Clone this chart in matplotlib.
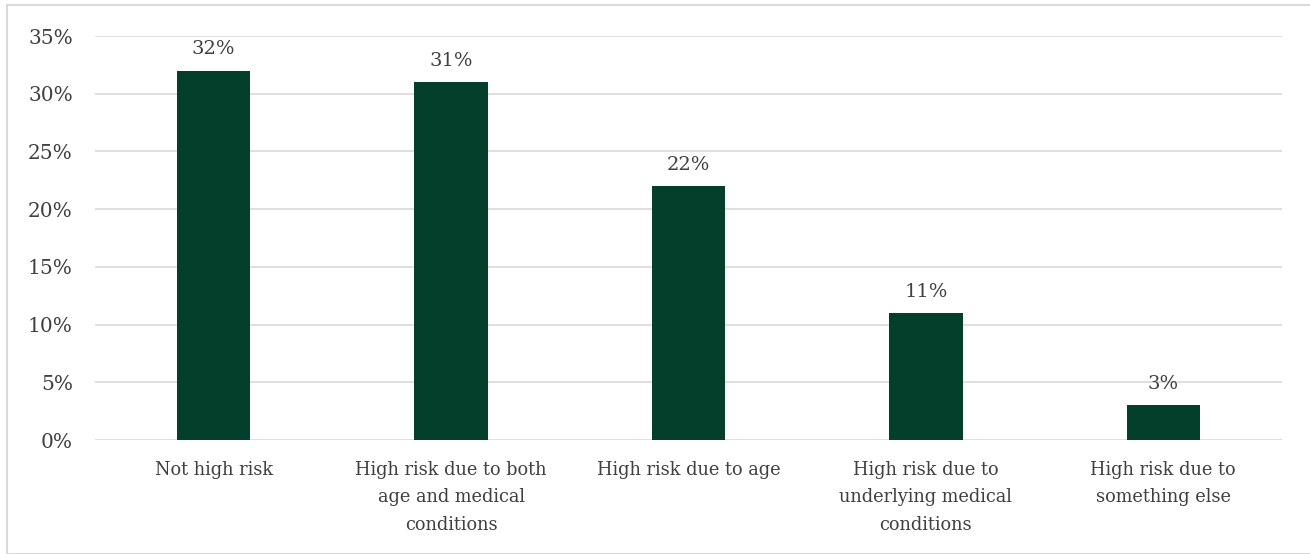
import matplotlib
matplotlib.use("Agg")
import matplotlib.pyplot as plt
from matplotlib.patches import Rectangle
from matplotlib.ticker import FuncFormatter, MultipleLocator

categories = ["Not high risk", "High risk due to both\nage and medical\nconditions",
              "High risk due to age", "High risk due to\nunderlying medical\nconditions",
              "High risk due to\nsomething else"]
values = [32, 31, 22, 11, 3]
labels = ["32%", "31%", "22%", "11%", "3%"]

bar_color = "#033F2A"
text_color = "#404040"
grid_color = "#D9D9D9"

plt.rcParams['font.family'] = ['DejaVu Serif']

fig = plt.figure(figsize=(13.10, 5.54), dpi=100)
fig.patches.append(Rectangle((7/1310, 0), 1.0, 1 - 5/554, transform=fig.transFigure,
                             fill=False, edgecolor=grid_color, linewidth=1.5))
ax = fig.add_axes([95/1310, 1 - 440/554, (1282 - 95)/1310, (440 - 36)/554])

x = range(len(categories))
bars = ax.bar(x, values, width=0.31, color=bar_color, zorder=3)
for xi, v, lab in zip(x, values, labels):
    ax.annotate(lab, (xi, v), xytext=(0, 9), textcoords="offset points",
                ha="center", va="bottom", fontsize=14, color=text_color)

ax.set_xlim(-0.5, len(categories) - 0.5)
ax.set_ylim(0, 35)
ax.yaxis.set_major_locator(MultipleLocator(5))
ax.yaxis.set_major_formatter(FuncFormatter(lambda v, p: f"{int(v)}%"))
ax.grid(axis="y", color=grid_color, linewidth=1.2, zorder=0)
for s in ax.spines.values():
    s.set_visible(False)
ax.tick_params(axis="both", length=0, labelcolor=text_color)
ax.tick_params(axis="y", pad=16, labelsize=14.5)
ax.tick_params(axis="x", pad=15, labelsize=12.8)
ax.set_xticks(list(x))
ax.set_xticklabels(categories, linespacing=1.68)
ax.set_axisbelow(True)

fig.savefig("out.png", dpi=100)
